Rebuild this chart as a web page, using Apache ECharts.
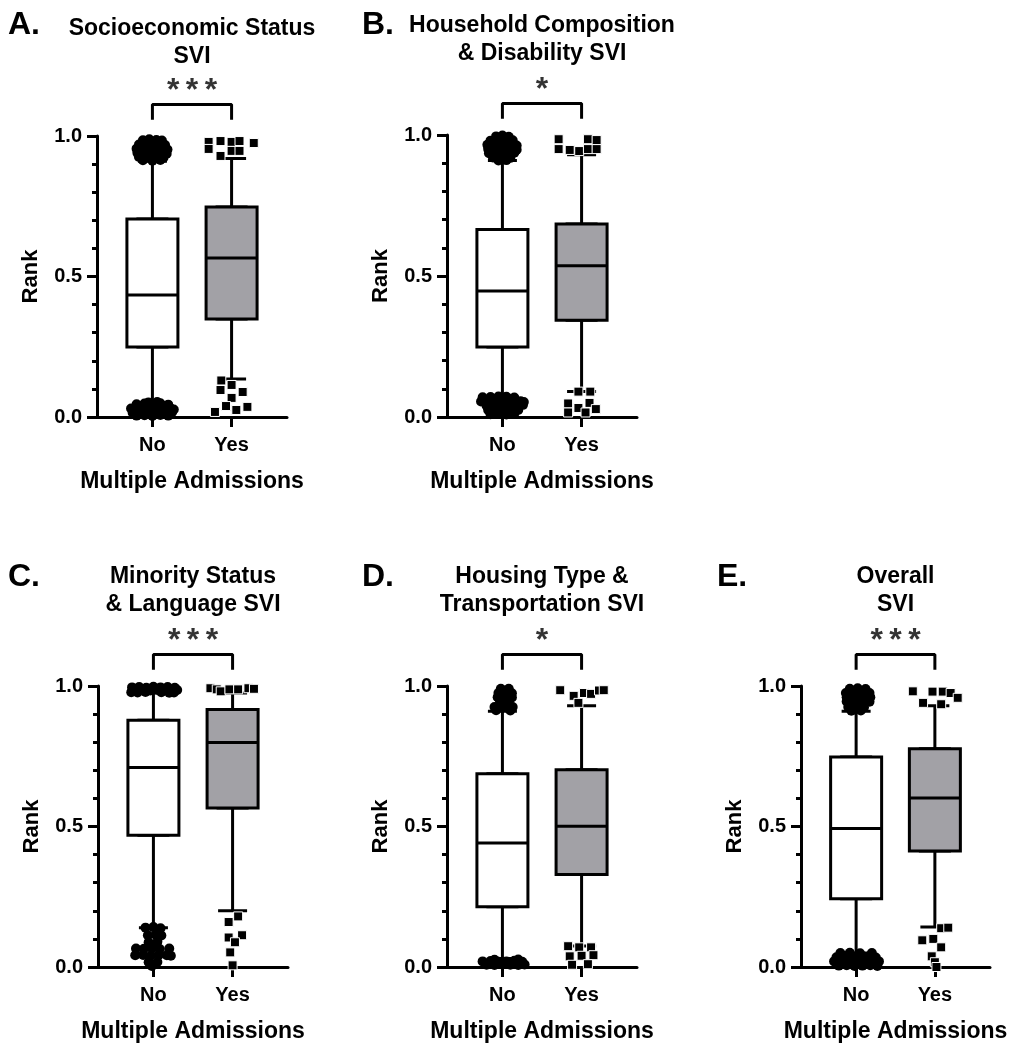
<!DOCTYPE html>
<html><head><meta charset="utf-8">
<script src="https://cdn.jsdelivr.net/npm/echarts@6/dist/echarts.min.js"></script>
<style>html,body{margin:0;padding:0;background:#fff}#chart{width:1019px;height:1050px}</style>
</head><body><div id="chart"></div>
<script>
// ---------------- DATA ----------------
const categories = ['No', 'Yes'];
const panelLetters = ['A.', 'B.', 'C.', 'D.', 'E.'];
const panelTitles = [
  'Socioeconomic Status\nSVI',
  'Household Composition\n& Disability SVI',
  'Minority Status\n& Language SVI',
  'Housing Type &\nTransportation SVI',
  'Overall\nSVI'
];
const significance = ['***', '*', '***', '*', '***'];
const yTickLabels = [0, 0.5, 1.0];
const yAxisName = 'Rank';
const xAxisName = 'Multiple Admissions';

// box statistics: [lower whisker, Q1, median, Q3, upper whisker]
const statsNo = [
  [0.05, 0.249, 0.434, 0.705, 0.91],
  [0.075, 0.248, 0.447, 0.665, 0.91],
  [0.14, 0.469, 0.710, 0.878, 0.975],
  [0.03, 0.214, 0.441, 0.688, 0.91],
  [0.05, 0.243, 0.493, 0.747, 0.91]
];
const statsYes = [
  [0.135, 0.349, 0.566, 0.747, 0.92],
  [0.09, 0.343, 0.536, 0.684, 0.93],
  [0.20, 0.566, 0.799, 0.916, 0.975],
  [0.075, 0.329, 0.501, 0.702, 0.93],
  [0.142, 0.413, 0.601, 0.777, 0.93]
];

// outliers: [jitter, rank]
const outliersNoA = [
  [-0.12,0.985],[-0.04,0.988],[0.05,0.986],[0.12,0.984],
  [-0.17,0.97],[-0.08,0.972],[0.0,0.969],[0.09,0.971],[0.16,0.968],
  [-0.2,0.955],[-0.11,0.953],[-0.02,0.956],[0.07,0.954],[0.15,0.957],[0.19,0.952],
  [-0.19,0.94],[-0.1,0.938],[0.0,0.941],[0.1,0.939],[0.18,0.937],
  [-0.17,0.925],[-0.07,0.924],[0.04,0.926],[0.14,0.923],
  [-0.12,0.914],[0.0,0.912],[0.1,0.915],
  [-0.2,0.045],[-0.1,0.048],[0.0,0.046],[0.1,0.049],[0.2,0.044],
  [-0.27,0.03],[-0.17,0.032],[-0.07,0.029],[0.03,0.031],[0.13,0.028],[0.22,0.033],[0.27,0.027],
  [-0.25,0.015],[-0.15,0.017],[-0.05,0.014],[0.05,0.016],[0.15,0.013],[0.25,0.018],
  [-0.2,0.005],[-0.1,0.006],[0.0,0.004],[0.1,0.007],[0.2,0.005],
  [-0.05,0.052],[0.06,0.053]
];
const outliersYesA = [
  [-0.29,0.979],[-0.29,0.954],[-0.14,0.982],[-0.14,0.929],[0.0,0.979],[0.0,0.947],
  [0.1,0.982],[0.1,0.947],[0.28,0.975],
  [-0.13,0.13],[0.0,0.114],[-0.14,0.096],[0.14,0.089],[0.0,0.068],[-0.07,0.039],
  [0.2,0.036],[0.06,0.025],[-0.21,0.018]
];
const outliersNoB = [
  [-0.08,0.995],[0.0,0.998],[0.08,0.994],
  [-0.15,0.98],[-0.06,0.982],[0.04,0.979],[0.13,0.981],
  [-0.19,0.965],[-0.1,0.966],[0.0,0.964],[0.1,0.967],[0.18,0.963],
  [-0.18,0.95],[-0.08,0.951],[0.02,0.949],[0.12,0.952],[0.18,0.948],
  [-0.17,0.935],[-0.07,0.936],[0.05,0.934],[0.15,0.937],
  [-0.12,0.92],[0.0,0.921],[0.1,0.919],
  [-0.05,0.91],[0.05,0.911],
  [-0.25,0.07],[-0.15,0.071],[-0.05,0.073],[0.05,0.072],[0.15,0.069],
  [-0.27,0.055],[-0.17,0.056],[-0.07,0.054],[0.03,0.057],[0.13,0.055],[0.23,0.056],[0.27,0.053],
  [-0.2,0.04],[-0.1,0.041],[0.0,0.039],[0.1,0.042],[0.2,0.04],[0.26,0.043],
  [-0.18,0.025],[-0.08,0.026],[0.02,0.024],[0.12,0.027],[0.2,0.025],
  [-0.15,0.01],[-0.05,0.011],[0.05,0.009],[0.15,0.012]
];
const outliersYesB = [
  [-0.29,0.985],[-0.29,0.95],[-0.15,0.947],[-0.03,0.943],[0.08,0.985],[0.19,0.982],
  [0.08,0.95],[0.19,0.95],
  [-0.04,0.09],[0.11,0.09],[-0.17,0.048],[-0.17,0.016],[-0.04,0.032],[0.1,0.05],
  [0.18,0.028],[0.05,0.016]
];
const outliersNoC = [
  [-0.27,0.995],[-0.18,0.996],[-0.09,0.994],[0.0,0.997],[0.09,0.995],[0.18,0.996],[0.27,0.994],
  [-0.25,0.985],[-0.14,0.986],[-0.04,0.984],[0.05,0.987],[0.14,0.985],[0.23,0.983],[0.3,0.986],
  [-0.28,0.978],[-0.2,0.977],[-0.1,0.979],[0.1,0.978],[0.2,0.976],[0.26,0.977],
  [-0.1,0.14],[0.0,0.142],[0.09,0.138],
  [-0.07,0.113],[0.03,0.115],[0.1,0.112],[-0.06,0.088],[0.05,0.09],
  [-0.22,0.066],[-0.12,0.065],[-0.02,0.067],[0.08,0.064],[0.2,0.066],
  [-0.23,0.042],[-0.13,0.043],[-0.03,0.041],[0.07,0.044],[0.17,0.042],[0.22,0.04],
  [-0.06,0.017],[0.05,0.018],[-0.02,0.004]
];
const outliersYesC = [
  [-0.28,0.992],[-0.2,0.988],[-0.15,0.981],[-0.04,0.988],[0.07,0.988],[0.2,0.992],[0.27,0.99],
  [0.07,0.18],[-0.05,0.16],[0.12,0.113],[-0.05,0.105],[0.03,0.088],[-0.03,0.052],[0.0,0.006]
];
const outliersNoD = [
  [-0.02,0.99],[0.08,0.99],[-0.05,0.975],[0.04,0.976],[0.12,0.974],
  [-0.06,0.96],[0.03,0.961],[0.12,0.959],[-0.03,0.945],[0.08,0.944],
  [-0.1,0.925],[-0.02,0.926],[0.06,0.924],[0.13,0.925],[-0.08,0.914],[0.1,0.913],
  [-0.25,0.02],[-0.15,0.021],[-0.05,0.019],[0.05,0.02],[0.15,0.022],[0.25,0.019],
  [-0.2,0.008],[-0.1,0.007],[0.0,0.009],[0.1,0.008],[0.2,0.007],[0.28,0.009],
  [-0.1,0.026],[0.2,0.027]
];
const outliersYesD = [
  [-0.27,0.985],[-0.1,0.965],[0.03,0.975],[0.12,0.972],[0.22,0.984],[0.28,0.985],[-0.04,0.94],
  [-0.17,0.074],[-0.03,0.07],[0.12,0.07],[-0.15,0.038],[0.0,0.04],[0.15,0.042],
  [-0.12,0.008],[0.08,0.01]
];
const outliersNoE = [
  [-0.08,0.99],[0.02,0.992],[0.12,0.989],[-0.13,0.975],[-0.03,0.976],[0.07,0.974],[0.17,0.975],
  [-0.12,0.96],[-0.02,0.961],[0.08,0.959],[0.18,0.96],[-0.12,0.945],[-0.02,0.944],[0.08,0.946],
  [0.17,0.944],[-0.1,0.925],[0.0,0.926],[0.1,0.924],[-0.06,0.912],[0.06,0.913],
  [-0.2,0.05],[-0.08,0.051],[0.05,0.049],[0.2,0.05],
  [-0.25,0.035],[-0.15,0.036],[-0.05,0.034],[0.05,0.035],[0.15,0.036],[0.25,0.034],
  [-0.28,0.02],[-0.18,0.021],[-0.08,0.019],[0.02,0.02],[0.12,0.021],[0.22,0.019],[0.29,0.02],
  [-0.22,0.005],[-0.12,0.006],[-0.02,0.004],[0.08,0.005],[0.18,0.006],[0.27,0.004]
];
const outliersYesE = [
  [-0.28,0.981],[-0.15,0.94],[-0.03,0.98],[0.1,0.98],[0.2,0.975],[0.08,0.935],[0.29,0.958],
  [0.08,0.138],[0.17,0.14],[-0.16,0.095],[-0.02,0.1],[0.08,0.07],[-0.04,0.038],
  [0.0,0.017],[0.02,0.0]
];
const outliersNo = [outliersNoA, outliersNoB, outliersNoC, outliersNoD, outliersNoE];
const outliersYes = [outliersYesA, outliersYesB, outliersYesC, outliersYesD, outliersYesE];

// ---------------- LAYOUT / STYLE ----------------
const FONT = '"Liberation Sans", Arial, Helvetica, sans-serif';
const grids = [
  {left: 97, top: 136, width: 190, height: 281},
  {left: 447, top: 135, width: 190, height: 282},
  {left: 98, top: 686, width: 190, height: 281},
  {left: 447, top: 686, width: 190, height: 281},
  {left: 801, top: 686, width: 189, height: 281}
];
const letterPos = [[8, 9], [362, 9], [8, 561], [362, 561], [717, 561]];
const titleTop = [15, 12, 563, 563, 563];
const BRACKET_TOP = 1.112, BRACKET_LEG = 1.058;
const X_MIN = -0.7, X_MAX = 1.7;
const fillNo = '#ffffff', fillYes = '#a2a1a6';
const N = grids.length;

const option = {
  animation: false,
  backgroundColor: '#fff',
  title: [],
  grid: [],
  xAxis: [],
  yAxis: [],
  series: []
};

const txt = (size) => ({fontFamily: FONT, fontWeight: 'bold', fontSize: size, color: '#000'});

grids.forEach((g, i) => {
  option.grid.push(Object.assign({outerBoundsMode: 'none', containLabel: false}, g));
  option.title.push({
    text: panelLetters[i], left: letterPos[i][0], top: letterPos[i][1], padding: 0,
    textStyle: Object.assign(txt(32), {lineHeight: 32})
  });
  option.title.push({
    text: panelTitles[i], left: g.left + g.width / 2, textAlign: 'center', top: titleTop[i], padding: 0,
    textStyle: Object.assign(txt(23), {lineHeight: 28})
  });
  option.xAxis[i] = {
    type: 'value', gridIndex: i, min: X_MIN, max: X_MAX,
    splitLine: {show: false},
    axisLine: {show: true, onZero: false, lineStyle: {color: '#000', width: 3}},
    axisTick: {show: true, customValues: [0, 1], length: 10, lineStyle: {color: '#000', width: 3}},
    axisLabel: Object.assign(txt(20), {customValues: [0, 1], margin: 18,
      formatter: v => categories[Math.round(v)]}),
    name: xAxisName, nameLocation: 'middle', nameGap: 53,
    nameTextStyle: txt(23)
  };
  // hidden twin axis for the whisker layer (keeps the two box layers from being offset)
  option.xAxis[N + i] = {
    type: 'value', gridIndex: i, min: X_MIN, max: X_MAX, show: false,
    axisLine: {onZero: false}
  };
  option.yAxis.push({
    type: 'value', gridIndex: i, min: 0, max: 1, interval: 0.5,
    splitLine: {show: false},
    axisLine: {show: true, onZero: false, lineStyle: {color: '#000', width: 3}},
    axisTick: {show: true, length: 10, lineStyle: {color: '#000', width: 3}},
    minorTick: {show: true, splitNumber: 5, length: 5, lineStyle: {color: '#000', width: 3}},
    minorSplitLine: {show: false},
    axisLabel: Object.assign(txt(20), {customValues: yTickLabels, margin: 15,
      formatter: v => Number(v).toFixed(1)}),
    name: yAxisName, nameLocation: 'middle', nameGap: 55,
    nameTextStyle: txt(22)
  });

  const sNo = statsNo[i], sYes = statsYes[i];
  // whiskers + caps (narrow caps), drawn underneath
  option.series.push({
    type: 'boxplot', xAxisIndex: N + i, yAxisIndex: i, z: 2, boxWidth: [29, 29],
    silent: true,
    data: [
      {value: [0].concat(sNo), itemStyle: {color: fillNo}},
      {value: [1].concat(sYes), itemStyle: {color: fillYes}}
    ],
    itemStyle: {borderColor: '#000', borderWidth: 3}
  });
  // boxes (full width) drawn over the whisker layer
  option.series.push({
    type: 'boxplot', xAxisIndex: i, yAxisIndex: i, z: 3, boxWidth: [51, 51],
    silent: true,
    data: [
      {value: [0, sNo[1], sNo[1], sNo[2], sNo[3], sNo[3]], itemStyle: {color: fillNo}},
      {value: [1, sYes[1], sYes[1], sYes[2], sYes[3], sYes[3]], itemStyle: {color: fillYes}}
    ],
    itemStyle: {borderColor: '#000', borderWidth: 3}
  });
  // outliers
  option.series.push({
    type: 'scatter', xAxisIndex: i, yAxisIndex: i, z: 5, clip: false, silent: true,
    symbol: 'circle', symbolSize: 10,
    itemStyle: {color: '#000', opacity: 1},
    data: outliersNo[i].map(p => [0 + p[0], p[1]])
  });
  option.series.push({
    type: 'scatter', xAxisIndex: i, yAxisIndex: i, z: 5, clip: false, silent: true,
    symbol: 'rect', symbolSize: 9,
    itemStyle: {color: '#000', opacity: 1, borderColor: '#fff', borderWidth: 1},
    data: outliersYes[i].map(p => [1 + p[0], p[1]])
  });
  // significance bracket
  option.series.push({
    type: 'line', xAxisIndex: i, yAxisIndex: i, z: 4, clip: false, silent: true,
    symbol: 'none', lineStyle: {color: '#000', width: 3},
    data: [[0, BRACKET_LEG], [0, BRACKET_TOP], [1, BRACKET_TOP], [1, BRACKET_LEG]]
  });
  option.series.push({
    type: 'scatter', xAxisIndex: i, yAxisIndex: i, z: 4, clip: false, silent: true,
    symbolSize: 0.1, itemStyle: {color: 'rgba(0,0,0,0)'},
    label: Object.assign(txt(32), {show: true, position: 'top', distance: -3,
      formatter: significance[i].split('').join('\u2009')}),
    data: [[0.5, BRACKET_TOP]]
  });
});

const chart = echarts.init(document.getElementById('chart'), null, {renderer: 'canvas'});
chart.setOption(option);
</script>
</body></html>
